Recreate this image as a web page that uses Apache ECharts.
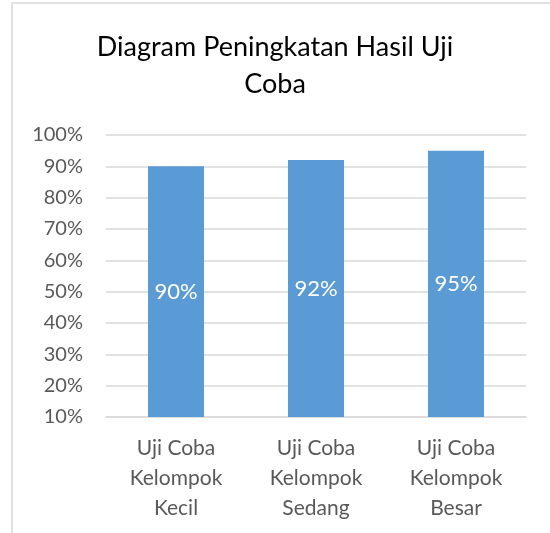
<!DOCTYPE html>
<html>
<head>
<meta charset="utf-8">
<script src="https://cdn.jsdelivr.net/npm/echarts@6/dist/echarts.min.js"></script>
<style>
  html, body { margin: 0; padding: 0; background: #fff; }
  #chart { width: 550px; height: 533px; }
</style>
</head>
<body>
<div id="chart"></div>
<script>
var categories = ['Uji Coba\nKelompok\nKecil', 'Uji Coba\nKelompok\nSedang', 'Uji Coba\nKelompok\nBesar'];
var values = [90, 92, 95];
var yMin = 10, yMax = 100, yStep = 10;

var myChart = echarts.init(document.getElementById('chart'));
var fontFam = 'Lato, "Open Sans", sans-serif';

var option = {
    animation: false,
    textStyle: { fontFamily: fontFam },
    title: {
        text: 'Diagram Peningkatan Hasil Uji\nCoba',
        left: 'center',
        top: 24,
        textStyle: { fontSize: 27, fontWeight: 'normal', color: '#000', lineHeight: 37, fontFamily: fontFam }
    },
    graphic: [{
        type: 'rect',
        shape: { x: 12, y: 3, width: 560, height: 560 },
        style: { fill: 'none', stroke: '#d9d9d9', lineWidth: 1.5 },
        silent: true
    }],
    grid: { left: 106, right: 24, top: 135, bottom: 116 },
    xAxis: {
        type: 'category',
        data: categories,
        axisLine: { lineStyle: { color: '#d9d9d9', width: 1.5 } },
        axisTick: { show: false },
        axisLabel: { color: '#595959', fontSize: 21, lineHeight: 30, margin: 16, fontFamily: fontFam }
    },
    yAxis: {
        type: 'value',
        min: yMin,
        max: yMax,
        interval: yStep,
        axisLine: { show: false },
        axisTick: { show: false },
        splitLine: { lineStyle: { color: '#d9d9d9', width: 1.5 } },
        axisLabel: { color: '#595959', fontSize: 20, margin: 23, formatter: '{value}%', fontFamily: fontFam }
    },
    series: [{
        type: 'bar',
        data: values,
        barWidth: '40%',
        itemStyle: { color: '#5b9bd5' },
        label: {
            show: true,
            position: 'inside',
            formatter: '{c}%',
            color: '#fff',
            fontSize: 22,
            fontFamily: fontFam
        }
    }]
};

myChart.setOption(option);
</script>
</body>
</html>
